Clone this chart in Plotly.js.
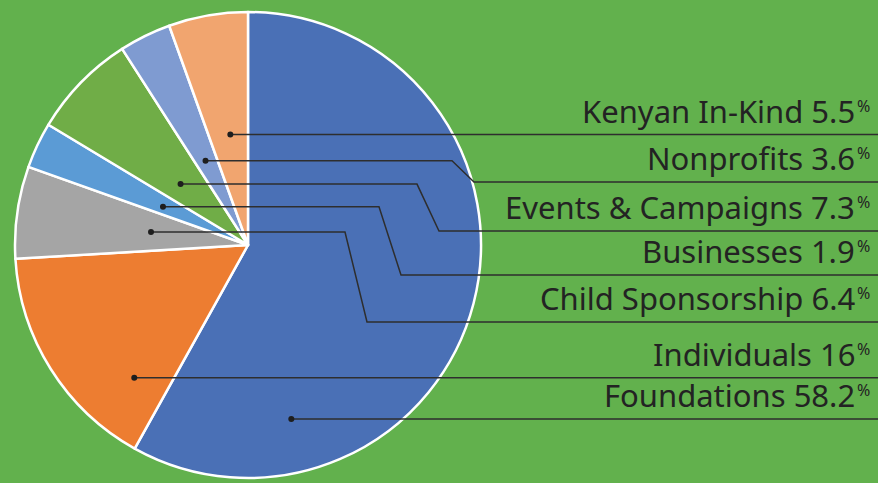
<!DOCTYPE html>
<html>
<head>
<meta charset="utf-8">
<script src="https://cdn.plot.ly/plotly-3.0.1.min.js"></script>
<style>html,body{margin:0;padding:0;background:#62B14D;}#chart{width:878px;height:483px;}</style>
</head>
<body>
<div id="chart"></div>
<script>
// ---- data (clockwise from 12 o'clock) ----
const labels = ['Foundations', 'Individuals', 'Child Sponsorship', 'Businesses', 'Events & Campaigns', 'Nonprofits', 'Kenyan In-Kind'];
const labelPct = ['58.2', '16', '6.4', '1.9', '7.3', '3.6', '5.5'];
// slice sizes as drawn in the picture (Businesses slice is drawn larger than its label)
const shares = [58.2, 16, 6.4, 3.2, 7.3, 3.6, 5.5];
const colors = ['#4A70B6', '#ED7D31', '#A5A5A5', '#5B9BD5', '#70AD47', '#7F9BD1', '#F1A56F'];

// ---- layout config (pixels) ----
const W = 878, H = 483;
const CX = 248, CY = 245, R = 233;
// anchor of leader-line dot inside each slice: fraction along slice angle, fraction of radius
const anchorAng = [0.794, 0.20, 0.48, 0.40, 0.42, 0.46, 0.54];
const anchorRad = [0.77, 0.75, 0.42, 0.40, 0.39, 0.405, 0.48];
// label row line y and elbow x (null = straight)
const rowY = [null, null, 322, 275, 231, 182, null];
const elbowX = [null, null, 345, 379, 417, 452, null];
const elbowDX = 22;

const total = shares.reduce((a, b) => a + b, 0);
let cum = 0;
const shapes = [], annotations = [];
const lineColor = '#2E2E2E', textColor = '#232323';
shares.forEach((v, i) => {
  const a0 = cum / total * 2 * Math.PI;
  cum += v;
  const a1 = cum / total * 2 * Math.PI;
  const a = a0 + anchorAng[i] * (a1 - a0);
  const r = anchorRad[i] * R;
  const dx = CX + r * Math.sin(a), dy = CY - r * Math.cos(a);
  let ly = dy;
  let path;
  if (rowY[i] === null) {
    path = `M ${dx} ${dy} L ${W} ${dy}`;
  } else {
    ly = rowY[i];
    path = `M ${dx} ${dy} L ${elbowX[i]} ${dy} L ${elbowX[i] + elbowDX} ${ly} L ${W} ${ly}`;
  }
  shapes.push({type: 'path', xref: 'x', yref: 'y', path: path, line: {color: lineColor, width: 1.5}});
  shapes.push({type: 'circle', xref: 'x', yref: 'y', x0: dx - 3, x1: dx + 3, y0: dy - 3, y1: dy + 3,
    fillcolor: '#1E1E1E', line: {width: 0}});
  annotations.push({xref: 'x', yref: 'y', x: 856, y: ly - 2, xanchor: 'right', yanchor: 'bottom',
    text: labels[i] + ' ' + labelPct[i], showarrow: false,
    font: {family: 'Noto Sans, Open Sans, sans-serif', size: 31, color: textColor}, borderpad: 0});
  annotations.push({xref: 'x', yref: 'y', x: 856, y: ly - 29, xanchor: 'left', yanchor: 'middle',
    text: '%', showarrow: false,
    font: {family: 'Noto Sans, Open Sans, sans-serif', size: 16, color: textColor}, borderpad: 0});
});

const trace = {
  type: 'pie', values: shares, labels: labels, sort: false, direction: 'clockwise', rotation: 0,
  marker: {colors: colors, line: {color: '#FFFFFF', width: 2.5}},
  textinfo: 'none', hoverinfo: 'none', showlegend: false,
  domain: {x: [(CX - R) / W, (CX + R) / W], y: [1 - (CY + R) / H, 1 - (CY - R) / H]}
};

const layout = {
  width: W, height: H, margin: {l: 0, r: 0, t: 0, b: 0},
  paper_bgcolor: '#62B14D', plot_bgcolor: 'rgba(0,0,0,0)',
  xaxis: {range: [0, W], visible: false, fixedrange: true, domain: [0, 1]},
  yaxis: {range: [H, 0], visible: false, fixedrange: true, domain: [0, 1]},
  shapes: shapes, annotations: annotations, showlegend: false
};

Plotly.newPlot('chart', [trace], layout, {displayModeBar: false, staticPlot: true});
</script>
</body>
</html>
